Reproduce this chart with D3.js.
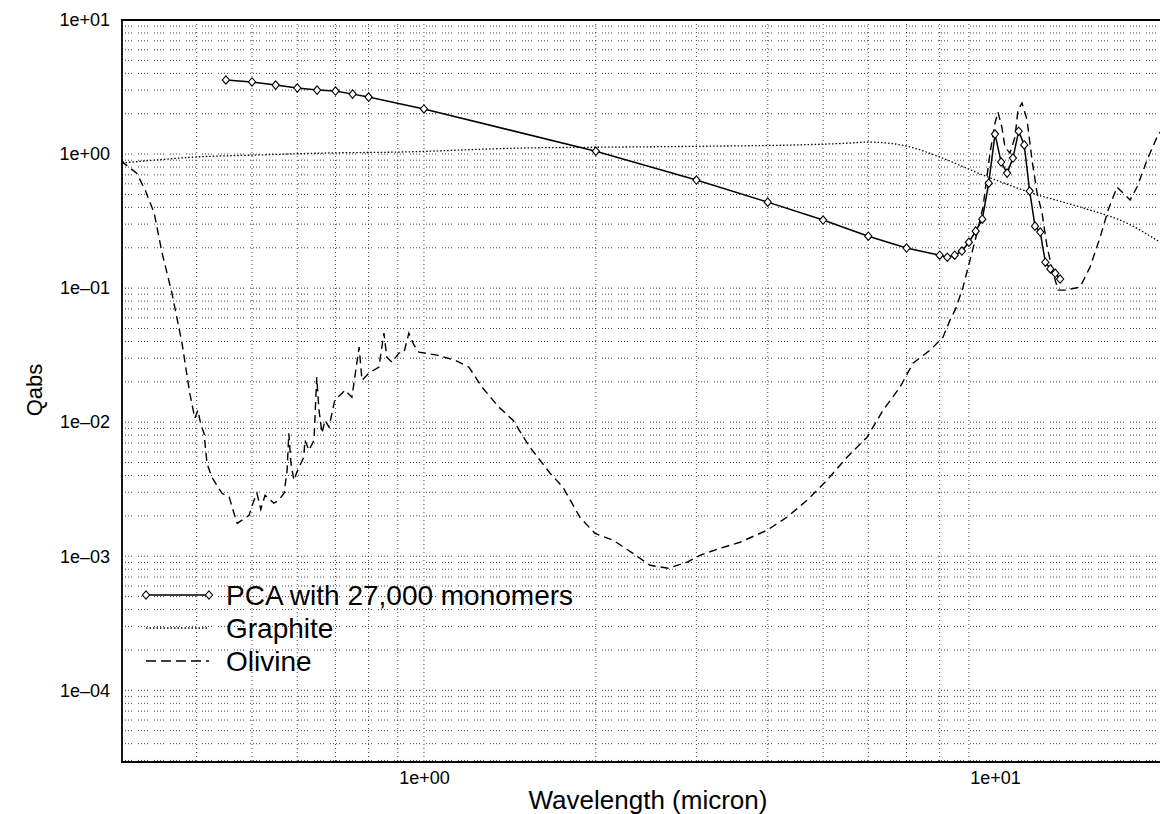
<!DOCTYPE html>
<meta charset="utf-8">
<head>
<script src="https://d3js.org/d3.v7.min.js"></script>
<style>
  body { margin: 0; background: #fff; }
  svg text { font-family: "Liberation Sans", Arial, Helvetica, sans-serif; fill: #000; }
</style>
</head>
<body>
<div id="my_dataviz"></div>
<script>

// PCA aggregate, 27,000 monomers: wavelength (micron) and Qabs
const pcaWave = [0.45, 0.5, 0.55, 0.6, 0.65, 0.7, 0.75, 0.8, 1, 2, 3, 4, 5, 6, 7, 8,
  8.25, 8.5, 8.75, 9, 9.25, 9.5, 9.75, 10, 10.25, 10.5, 10.75, 11, 11.25, 11.5, 11.75,
  12, 12.25, 12.5, 12.75, 13];
const pcaQ = [3.57, 3.45, 3.27, 3.11, 3.00, 2.95, 2.80, 2.66, 2.17, 1.05, 0.64, 0.438,
  0.322, 0.244, 0.199, 0.176, 0.170, 0.176, 0.189, 0.220, 0.266, 0.327, 0.607, 1.41,
  0.872, 0.721, 0.934, 1.48, 1.17, 0.530, 0.290, 0.262, 0.156, 0.139, 0.129, 0.117];

// graphite
const graphiteWave = [0.296, 0.338, 0.397, 0.506, 0.663, 0.904, 1.484, 2.205, 3.30, 4.375,
  5.57, 6.0, 7.0, 8.0, 9.53, 11.6, 14.3, 17.0, 19.45];
const graphiteQ = [0.857, 0.902, 0.950, 0.983, 1.017, 1.035, 1.109, 1.128, 1.147, 1.167,
  1.208, 1.229, 1.147, 0.950, 0.697, 0.512, 0.395, 0.306, 0.220];

// olivine
const olivineWave = [0.296, 0.298, 0.314, 0.325, 0.337, 0.348, 0.362, 0.377, 0.389, 0.397,
  0.402, 0.407, 0.412, 0.417, 0.425, 0.443, 0.456, 0.465, 0.471, 0.494,
  0.504, 0.510, 0.518, 0.527, 0.546, 0.557, 0.569, 0.576, 0.580, 0.585,
  0.592, 0.599, 0.616, 0.619, 0.629, 0.642, 0.649, 0.655, 0.663, 0.671,
  0.682, 0.698, 0.719, 0.727, 0.748, 0.770, 0.779, 0.801, 0.834, 0.851,
  0.861, 0.879, 0.904, 0.923, 0.941, 0.961, 0.980, 1.054, 1.133, 1.199,
  1.264, 1.353, 1.432, 1.533, 1.663, 1.752, 1.876, 1.993, 2.143, 2.323,
  2.488, 2.675, 2.888, 3.043, 3.299, 3.576, 3.988, 4.322, 4.686, 5.079,
  5.506, 5.969, 6.367, 6.818, 7.184, 7.694, 8.108, 8.340, 8.544, 8.790,
  9.041, 9.300, 9.528, 9.800, 10.0, 10.12, 10.28, 10.41, 10.62, 10.84,
  10.97, 11.15, 11.38, 11.61, 11.85, 12.09, 12.34, 12.64, 12.90, 13.27,
  14.09, 14.67, 15.28, 15.78, 16.36, 16.76, 17.24, 17.73, 18.46, 19.22, 19.45];
const olivineQ = [0.902, 0.857, 0.721, 0.539, 0.363, 0.1825, 0.0918, 0.0389, 0.01646, 0.01071,
  0.01229, 0.0095, 0.00828, 0.00494, 0.00389, 0.00295, 0.00276, 0.00209, 0.00176, 0.00202,
  0.00262, 0.00295, 0.00224, 0.00285, 0.00249, 0.00262, 0.00295, 0.00438, 0.00828, 0.00494,
  0.00369, 0.00423, 0.00548, 0.00734, 0.00618, 0.00734, 0.02167, 0.01229, 0.00828, 0.01035,
  0.00918, 0.01459, 0.01646, 0.01733, 0.01537, 0.03628, 0.02057, 0.02321, 0.02573, 0.04615,
  0.03055, 0.02804, 0.03273, 0.0333, 0.04615, 0.03755, 0.0333, 0.03162, 0.02902, 0.02573,
  0.01825, 0.01294, 0.01035, 0.00651, 0.00416, 0.00327, 0.00195, 0.00148, 0.00132, 0.00105,
  0.000857, 0.000814, 0.000902, 0.001017, 0.001147, 0.001272, 0.001563, 0.001954, 0.002618, 0.003692,
  0.005479, 0.007727, 0.01229, 0.01825, 0.02756, 0.03446, 0.04308, 0.05771, 0.07091, 0.1017,
  0.1618, 0.2573, 0.4022, 1.017, 1.703, 2.058, 1.59, 1.128, 1.017, 1.339,
  2.13, 2.403, 1.794, 0.902, 0.5117, 0.3628, 0.2023, 0.1294, 0.0966, 0.0966,
  0.1017, 0.1434, 0.2402, 0.3821, 0.5672, 0.5117, 0.4535, 0.5672, 0.902, 1.339, 1.459];

// axis labels
const xTicks = [1, 10];
const xTickLabels = ["1e+00", "1e+01"];
const yTicks = [10, 1, 0.1, 0.01, 0.001, 0.0001];
const yTickLabels = ["1e+01", "1e+00", "1e\u201301", "1e\u201302", "1e\u201303", "1e\u201304"];
const legendLabels = ["PCA with 27,000 monomers", "Graphite", "Olivine"];

const margin = {top: 20, right: 0, bottom: 52, left: 122},
    width = 1160 - margin.left - margin.right,
    height = 814 - margin.top - margin.bottom;

const svg = d3.select("#my_dataviz")
  .append("svg")
    .attr("width", width + margin.left + margin.right)
    .attr("height", height + margin.top + margin.bottom)
  .append("g")
    .attr("transform", `translate(${margin.left},${margin.top})`);

const x = d3.scaleLog().domain([0.296, 19.45]).range([0, width]);
const y = d3.scaleLog().domain([2.92e-5, 10]).range([height, 0]);

svg.append("clipPath").attr("id", "plotclip")
  .append("rect").attr("width", width).attr("height", height);

// dotted grid
const gridColor = "#111";
svg.append("g")
  .selectAll("line")
  .data(y.ticks())
  .join("line")
    .attr("x1", 0).attr("x2", width)
    .attr("y1", d => y(d)).attr("y2", d => y(d))
    .attr("stroke", gridColor)
    .attr("stroke-width", 0.8)
    .attr("stroke-dasharray", "1,2,1,2,1,2,1,6");

svg.append("g")
  .selectAll("line")
  .data(x.ticks().filter(d => d > 0.35 && d < 9.5))
  .join("line")
    .attr("x1", d => x(d)).attr("x2", d => x(d))
    .attr("y1", 0).attr("y2", height)
    .attr("stroke", gridColor)
    .attr("stroke-width", 0.8)
    .attr("stroke-dasharray", "1,3");

// frame (left, top, bottom)
svg.append("path")
  .attr("d", `M${width},0H0V${height}H${width}`)
  .attr("fill", "none")
  .attr("stroke", "#000")
  .attr("stroke-width", 1.8);

// axes
const yAxis = svg.append("g")
  .call(d3.axisLeft(y).tickValues(yTicks).tickFormat((d, i) => yTickLabels[i])
    .tickSize(0).tickPadding(12));
const xAxis = svg.append("g")
  .attr("transform", `translate(0,${height})`)
  .call(d3.axisBottom(x).tickValues(xTicks).tickFormat((d, i) => xTickLabels[i])
    .tickSize(0).tickPadding(9));
[xAxis, yAxis].forEach(a => {
  a.select(".domain").remove();
  a.attr("font-family", null).attr("font-size", null);
  a.selectAll("text").style("font-size", "18px").attr("fill", "#000");
});

svg.append("text")
  .attr("x", 526)
  .attr("y", height + 47)
  .attr("text-anchor", "middle")
  .style("font-size", "26px")
  .text("Wavelength (micron)");

svg.append("text")
  .attr("transform", `translate(${-80},${370}) rotate(-90)`)
  .attr("text-anchor", "middle")
  .style("font-size", "22px")
  .text("Qabs");

// series
const zip = (a, b) => a.map((v, i) => [v, b[i]]);
const pca = zip(pcaWave, pcaQ);
const graphite = zip(graphiteWave, graphiteQ);
const olivine = zip(olivineWave, olivineQ);

const line = d3.line().x(d => x(d[0])).y(d => y(d[1]));
const plot = svg.append("g").attr("clip-path", "url(#plotclip)");

plot.append("path")
  .attr("d", line.curve(d3.curveMonotoneX)(graphite))
  .attr("fill", "none").attr("stroke", "#000")
  .attr("stroke-width", 1.3).attr("stroke-dasharray", "1.5,2");

plot.append("path")
  .attr("d", line.curve(d3.curveLinear)(olivine))
  .attr("fill", "none").attr("stroke", "#000")
  .attr("stroke-width", 1.4).attr("stroke-dasharray", "8,5");

plot.append("path")
  .attr("d", line(pca))
  .attr("fill", "none").attr("stroke", "#000")
  .attr("stroke-width", 1.5);

const diamond = {
  draw(context) {
    context.moveTo(0, -4.2);
    context.lineTo(3.6, 0);
    context.lineTo(0, 4.2);
    context.lineTo(-3.6, 0);
    context.closePath();
  }
};
const marker = d3.symbol().type(diamond);

plot.selectAll(".pt")
  .data(pca)
  .join("path")
    .attr("class", "pt")
    .attr("transform", d => `translate(${x(d[0])},${y(d[1])})`)
    .attr("d", marker())
    .attr("fill", "#fff")
    .attr("stroke", "#000")
    .attr("stroke-width", 1.1);

// legend
const legendStyles = [
  {dash: null, markers: true},
  {dash: "1.5,2", markers: false},
  {dash: "10,5", markers: false}
];
const legend = svg.append("g").attr("transform", "translate(24,575)");
legendLabels.forEach((label, i) => {
  const row = legend.append("g").attr("transform", `translate(0,${i * 33})`);
  row.append("line")
    .attr("x1", 0).attr("x2", 63)
    .attr("stroke", "#000").attr("stroke-width", 1.3)
    .attr("stroke-dasharray", legendStyles[i].dash);
  if (legendStyles[i].markers) {
    row.selectAll(".lm").data([0, 63]).join("path")
      .attr("transform", d => `translate(${d},0)`)
      .attr("d", marker())
      .attr("fill", "#fff").attr("stroke", "#000").attr("stroke-width", 1.1);
  }
  row.append("text")
    .attr("x", 80)
    .attr("y", 10)
    .style("font-size", "28px")
    .text(label);
});

</script>
</body>
